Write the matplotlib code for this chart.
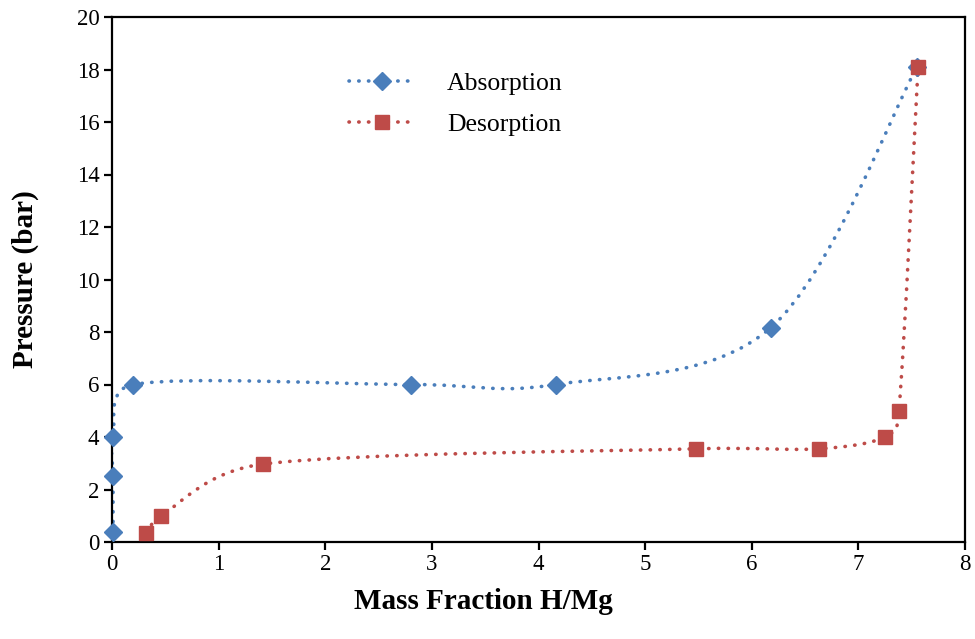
import matplotlib
matplotlib.use("Agg")
import matplotlib.pyplot as plt
from matplotlib.path import Path
from matplotlib.patches import PathPatch
from matplotlib.lines import Line2D
import numpy as np

plt.rcParams['font.family'] = ['Liberation Serif', 'DejaVu Serif']

abs_x = [0.01, 0.01, 0.01, 0.2, 2.8, 4.16, 6.18, 7.55]
abs_y = [0.4, 2.5, 4.0, 6.0, 6.0, 6.0, 8.17, 18.1]
des_x = [0.32, 0.46, 1.42, 5.48, 6.63, 7.25, 7.38, 7.56]
des_y = [0.35, 1.0, 2.97, 3.55, 3.55, 4.0, 5.0, 18.1]

blue = '#4A7EBB'
red = '#BE4B48'

W, H = 975, 639
L, R, T, B = 112, 965, 17, 542
fig = plt.figure(figsize=(W / 100, H / 100), dpi=100)
ax = fig.add_axes([L / W, 1 - B / H, (R - L) / W, (B - T) / H])
XMAX, YMAX = 8, 20
sx = (R - L) / XMAX
sy = (B - T) / YMAX


def smooth_path(xs, ys):
    # Excel-like smoothed line: Bezier with Catmull-Rom tangents, arm capped
    p = np.column_stack([np.asarray(xs) * sx, np.asarray(ys) * sy]).astype(float)
    n = len(p)
    verts = [p[0]]
    codes = [Path.MOVETO]
    for i in range(n - 1):
        p0 = p[i - 1] if i > 0 else p[i]
        p1 = p[i]
        p2 = p[i + 1]
        p3 = p[i + 2] if i + 2 < n else p[i + 1]
        seg = np.linalg.norm(p2 - p1)
        a1 = (p2 - p0) / 6.0
        a2 = (p3 - p1) / 6.0
        for a in (a1, a2):
            la = np.linalg.norm(a)
            if la > seg / 2 and la > 0:
                a *= (seg / 2) / la
        verts += [p1 + a1, p2 - a2, p2]
        codes += [Path.CURVE4] * 3
    v = np.array(verts)
    v[:, 0] /= sx
    v[:, 1] /= sy
    return Path(v, codes)


dot = (0, (0.1, 2.6))
for xs, ys, c, m, ms in [(abs_x, abs_y, blue, 'D', 9.5),
                         (des_x, des_y, red, 's', 10)]:
    patch = PathPatch(smooth_path(xs, ys), facecolor='none', edgecolor=c,
                      lw=2.6, linestyle=dot, capstyle='round', zorder=2)
    ax.add_patch(patch)
    ax.plot(xs, ys, linestyle='none', marker=m, markersize=ms, color=c,
            markeredgecolor=c, zorder=3, clip_on=False)

ax.set_xlim(0, XMAX)
ax.set_ylim(0, YMAX)
ax.set_xticks(range(0, 9))
ax.set_yticks(range(0, 21, 2))
for s in ax.spines.values():
    s.set_linewidth(1.6)
ax.tick_params(direction='out', length=6, width=1.6, labelsize=16.5, pad=3)
ax.set_xlabel('Mass Fraction H/Mg', fontsize=21, fontweight='bold')
ax.xaxis.set_label_coords(0.435, -0.087)
ax.set_ylabel('Pressure (bar)', fontsize=21, fontweight='bold')
ax.yaxis.set_label_coords(-0.086, 0.5)

handles = [Line2D([0], [0], color=blue, lw=2.6, linestyle=dot, dash_capstyle='round',
                  marker='D', markersize=9.5, markeredgecolor=blue),
           Line2D([0], [0], color=red, lw=2.6, linestyle=dot, dash_capstyle='round',
                  marker='s', markersize=10, markeredgecolor=red)]
ax.legend(handles, ['Absorption', 'Desorption'], loc='upper left',
          bbox_to_anchor=(0.251, 0.94), frameon=False, fontsize=18.5, numpoints=1,
          handlelength=2.55, handletextpad=1.25, labelspacing=0.72)

fig.savefig('out.png', dpi=100)
